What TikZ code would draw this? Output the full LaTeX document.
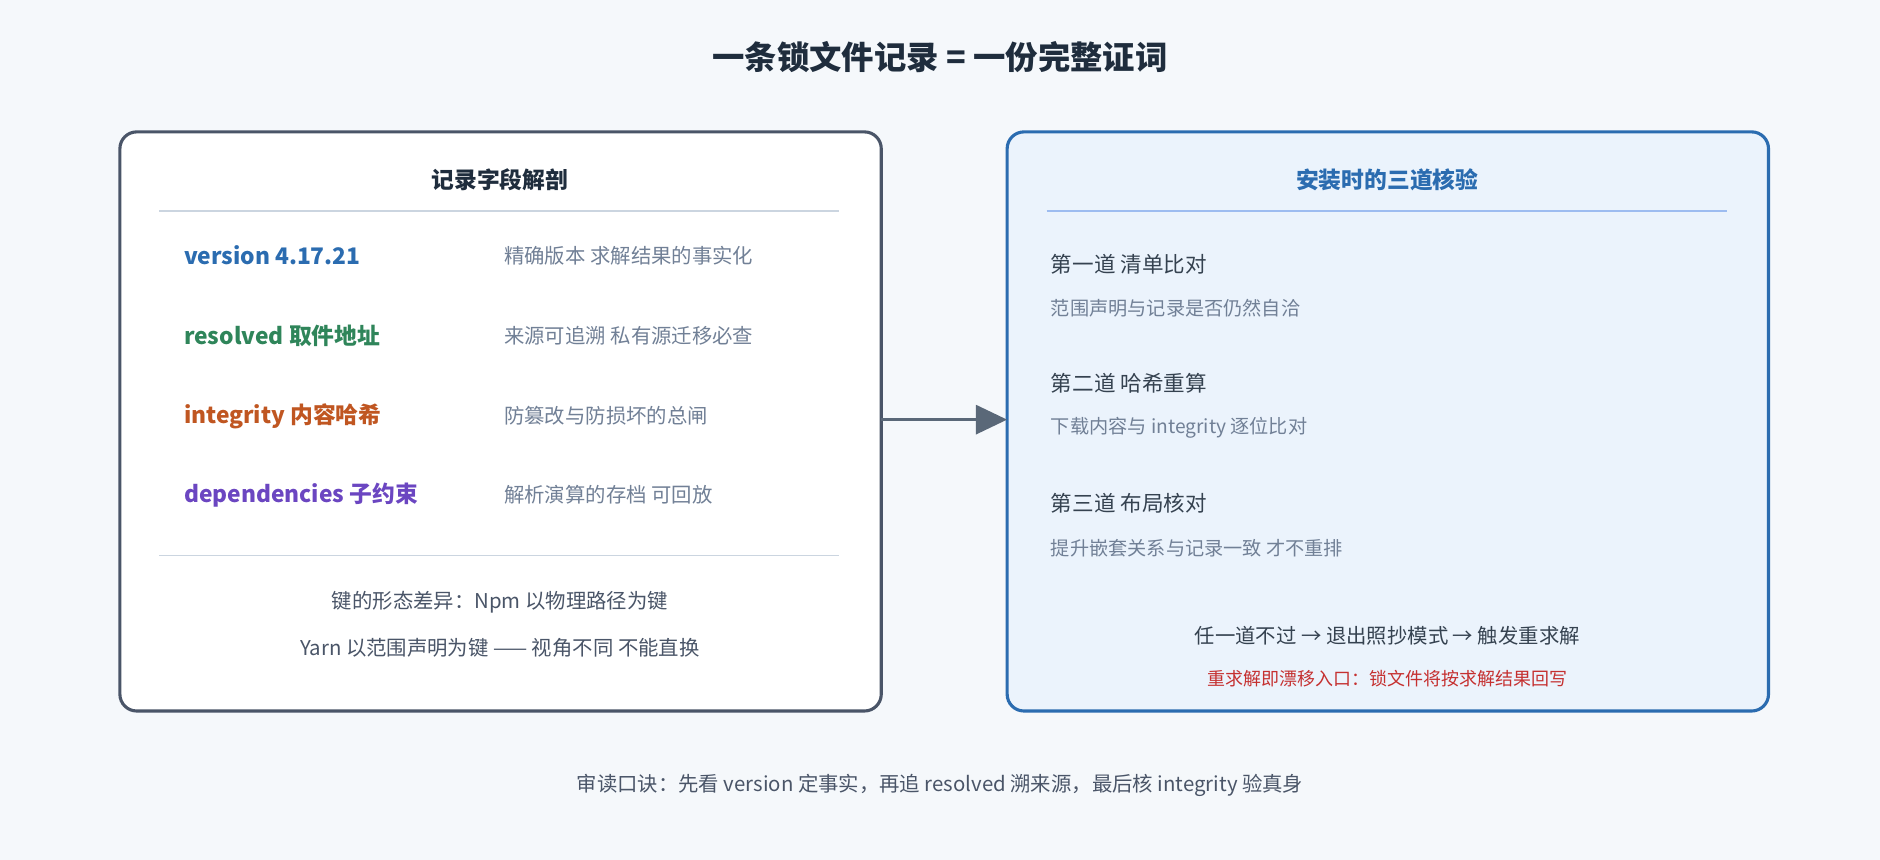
\documentclass[tikz,border=0pt]{standalone}
\usepackage{fontspec}
\setmainfont{Noto Sans CJK SC}
\usetikzlibrary{positioning, arrows.meta}

\definecolor{bgpage}{HTML}{F5F8FB}
\definecolor{inkdark}{HTML}{1F2D3D}
\definecolor{inkgrey}{HTML}{718096}
\definecolor{inkmid}{HTML}{4A5568}
\definecolor{rulegrey}{HTML}{CBD5E0}
\definecolor{boxblue}{HTML}{2B6CB0}
\definecolor{fillblue}{HTML}{EBF3FC}
\definecolor{ruleblue}{HTML}{9DBCF0}
\definecolor{keyblue}{HTML}{2B6CB0}
\definecolor{keygreen}{HTML}{2F855A}
\definecolor{keyorange}{HTML}{C05621}
\definecolor{keypurple}{HTML}{6B46C1}
\definecolor{warnred}{HTML}{C53030}
\definecolor{arrowgrey}{HTML}{5A6878}

\tikzset{
	panel/.style={rounded corners=14pt, line width=2.6pt},
	head/.style={font=\fontsize{19}{22}\selectfont\bfseries},
	key/.style={anchor=west, font=\fontsize{19}{22}\selectfont\bfseries},
	desc/.style={anchor=west, text=inkgrey, font=\fontsize{17}{20}\selectfont},
	check/.style={anchor=west, text=inkdark!90, font=\fontsize{18}{21}\selectfont},
	checksub/.style={anchor=west, text=inkgrey, font=\fontsize{16}{19}\selectfont},
	note/.style={text=inkmid, font=\fontsize{17}{20}\selectfont}
}

\begin{document}
\begin{tikzpicture}[x=1pt, y=-1pt]
	%background
	\fill[bgpage] (0,0) rectangle (1568,717);
	\useasboundingbox (0,0) rectangle (1568,717);

	%title
	\node[text=inkdark, font=\fontsize{27}{30}\selectfont\bfseries] (title) at (784,48) {一条锁文件记录 = 一份完整证词};

	%panels
	\draw[panel, draw=inkmid, fill=white] (100,110) rectangle (735,593);
	\draw[panel, draw=boxblue, fill=fillblue] (840,110) rectangle (1475,593);
	\coordinate (leftout) at (735,350);
	\coordinate (rightin) at (840,350);

	%left panel
	\node[head, text=inkdark] (lhead) at (417,150) {记录字段解剖};
	\draw[rulegrey, line width=1pt] (133,176) -- (700,176);
	\node[key, text=keyblue]   (kver) at (150,213) {version 4.17.21};
	\node[key, text=keygreen]  (kres) at (150,280) {resolved 取件地址};
	\node[key, text=keyorange] (kint) at (150,347) {integrity 内容哈希};
	\node[key, text=keypurple] (kdep) at (150,413) {dependencies 子约束};
	\node[desc] (dver) at (417,213) {精确版本 求解结果的事实化};
	\node[desc] (dres) at (417,280) {来源可追溯 私有源迁移必查};
	\node[desc] (dint) at (417,347) {防篡改与防损坏的总闸};
	\node[desc] (ddep) at (417,413) {解析演算的存档 可回放};
	\draw[rulegrey, line width=1pt] (133,463) -- (700,463);
	\node[note] (lnote1) at (417,502) {键的形态差异：Npm 以物理路径为键};
	\node[note] (lnote2) at (417,540) {Yarn 以范围声明为键 —— 视角不同 不能直换};

	%right panel
	\node[head, text=boxblue] (rhead) at (1157,150) {安装时的三道核验};
	\draw[ruleblue, line width=1pt] (873,176) -- (1440,176);
	\node[check]    (s1) at (873,220) {第一道 清单比对};
	\node[checksub] (t1) at (873,257) {范围声明与记录是否仍然自洽};
	\node[check]    (s2) at (873,320) {第二道 哈希重算};
	\node[checksub] (t2) at (873,357) {下载内容与 integrity 逐位比对};
	\node[check]    (s3) at (873,420) {第三道 布局核对};
	\node[checksub] (t3) at (873,457) {提升嵌套关系与记录一致 才不重排};
	\node[note, text=inkdark!90] (rnote1) at (1157,530) {任一道不过 → 退出照抄模式 → 触发重求解};
	\node[text=warnred, font=\fontsize{15}{18}\selectfont] (rnote2) at (1157,566) {重求解即漂移入口：锁文件将按求解结果回写};

	%connector
	\draw[arrowgrey, line width=3pt, -{Triangle[length=26pt, width=24pt]}] (leftout) -- (rightin);

	%footer
	\node[note] (foot) at (784,655) {审读口诀：先看 version 定事实，再追 resolved 溯来源，最后核 integrity 验真身};
\end{tikzpicture}
\end{document}
